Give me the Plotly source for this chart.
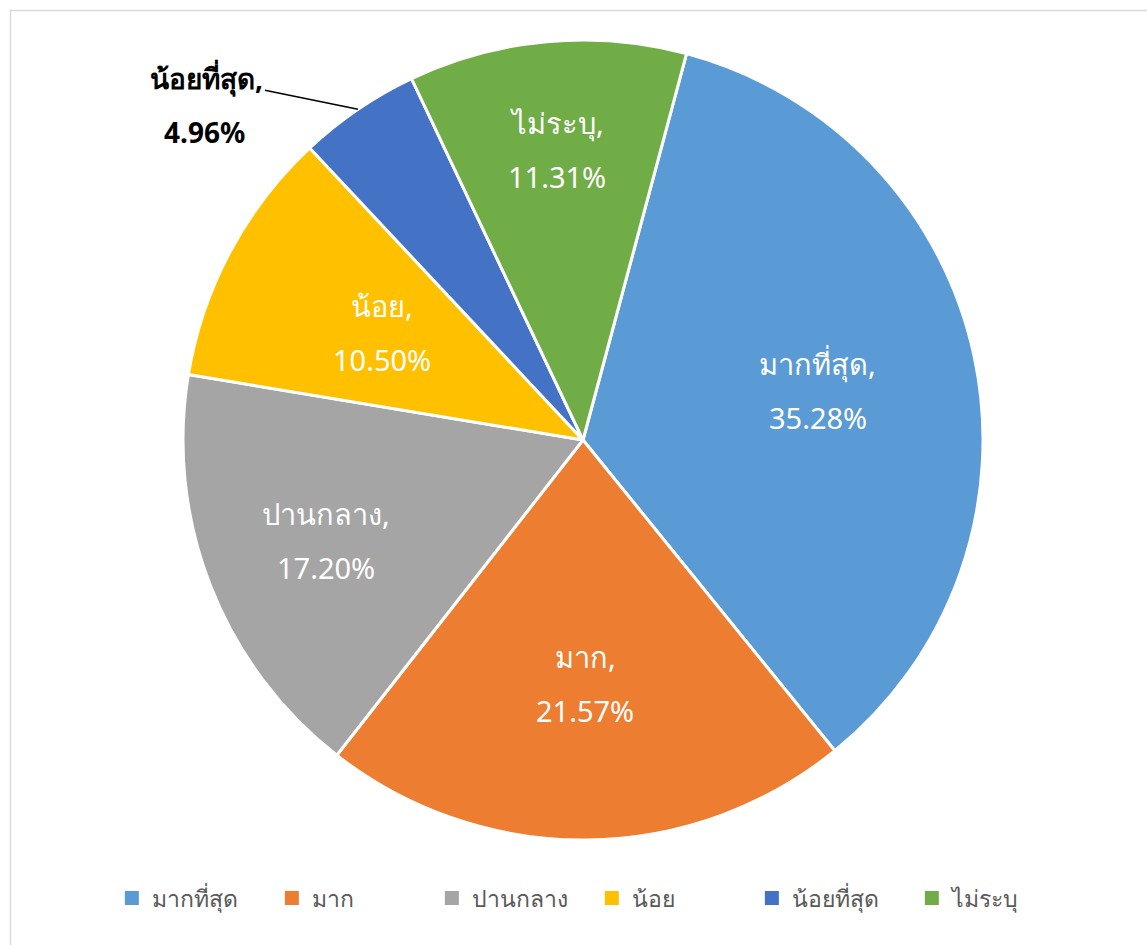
import math

import plotly.graph_objects as go

labels = ['มากที่สุด', 'มาก', 'ปานกลาง', 'น้อย', 'น้อยที่สุด', 'ไม่ระบุ']
values = [35.28, 21.57, 17.20, 10.50, 4.96, 11.31]
colors = ['#5B9BD5', '#ED7D31', '#A5A5A5', '#FFC000', '#4472C4', '#70AD47']

W, H = 1147, 945
FONT = 'Noto Sans, Tahoma, sans-serif'
start_deg = 15          # first slice starts a little clockwise from 12 o'clock
cx_px, cy_px, R = 583, 440, 400
# how far out (fraction of radius) each inside label sits, like excel's best fit
label_r = [0.60, 0.61, 0.69, 0.57, None, 0.73]

fig = go.Figure(go.Pie(
    labels=labels,
    values=values,
    sort=False,
    direction='clockwise',
    rotation=start_deg,
    marker=dict(colors=colors, line=dict(color='white', width=3)),
    textinfo='none',
    hoverinfo='label+value',
    showlegend=False,
    domain=dict(x=[(cx_px - R) / W, (cx_px + R) / W],
                y=[1 - (cy_px + R) / H, 1 - (cy_px - R) / H]),
))

# legend entries with bigger square keys (pie keys shrink under the white outline)
for lab, c in zip(labels, colors):
    fig.add_trace(go.Scatter(x=[None], y=[None], mode='markers', name=lab,
                             marker=dict(symbol='square', size=14, color=c),
                             hoverinfo='skip'))

total = sum(values)
acc = 0
annotations = []
for lab, v, rf in zip(labels, values, label_r):
    mid = math.radians(start_deg + 360 * (acc + v / 2) / total)
    acc += v
    base = dict(xref='paper', yref='paper', xanchor='center', yanchor='middle')
    if rf is None:
        # small slice: label outside with a leader line
        tx = (cx_px + R * math.sin(mid)) / W
        ty = 1 - (cy_px - R * math.cos(mid)) / H
        annotations.append(dict(base, x=tx, y=ty,
                                text='<b>%s,</b>' % lab, showarrow=True,
                                arrowhead=0, arrowwidth=1.5, arrowcolor='black',
                                ax=-151, ay=-31, standoff=0,
                                font=dict(size=28, color='black', family=FONT)))
        annotations.append(dict(base, x=tx, y=ty,
                                text='<b>%.2f%%</b>' % v, showarrow=False,
                                xshift=-153, yshift=-23,
                                font=dict(size=28, color='black', family=FONT)))
        continue
    r = rf * R
    px = (cx_px + r * math.sin(mid)) / W
    py = 1 - (cy_px - r * math.cos(mid)) / H
    annotations.append(dict(base, x=px, y=py,
                            text='%s,' % lab, showarrow=False, yshift=27,
                            font=dict(size=29, color='white', family=FONT)))
    annotations.append(dict(base, x=px, y=py,
                            text='%.2f%%' % v, showarrow=False, yshift=-27,
                            font=dict(size=29, color='white', family=FONT)))

fig.update_layout(
    width=W, height=H,
    margin=dict(l=0, r=0, t=0, b=0),
    paper_bgcolor='white',
    plot_bgcolor='rgba(0,0,0,0)',
    xaxis=dict(visible=False),
    yaxis=dict(visible=False),
    showlegend=True,
    legend=dict(orientation='h', x=0.516, xanchor='center', y=1 - 898 / H, yanchor='middle',
                font=dict(size=23, color='#595959', family=FONT),
                entrywidth=115, entrywidthmode='pixels'),
    annotations=annotations,
    shapes=[dict(type='rect', xref='paper', yref='paper',
                 x0=10.5 / W, x1=1.02, y0=-0.02, y1=1 - 10.5 / H,
                 line=dict(color='#D9D9D9', width=1.5))],
)

fig.write_html('out.html', config={'displayModeBar': False},
               post_script="document.body.style.margin='0';")
